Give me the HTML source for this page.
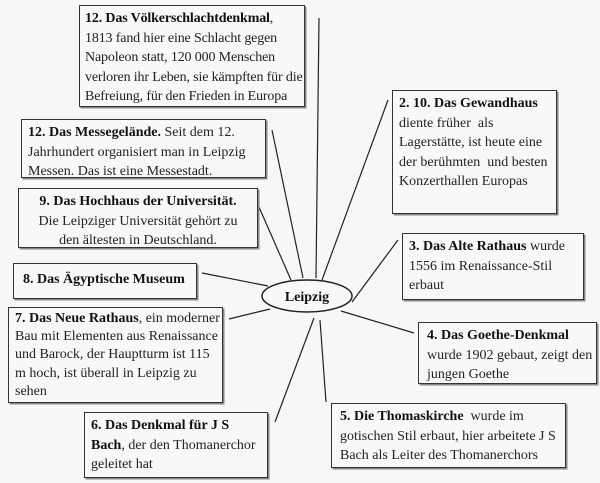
<!DOCTYPE html>
<html><head><meta charset="utf-8"><style>
html,body{margin:0;padding:0;}
body{width:600px;height:483px;background:#f7f7f5;position:relative;overflow:hidden;font-family:"Liberation Serif",serif;font-size:14px;color:#222;}
.b{position:absolute;border:1.5px solid #333;box-shadow:1.5px 1.5px 0 #888;background:#f8f8f6;line-height:19.5px;padding:3px 6px;box-sizing:border-box;white-space:nowrap;overflow:hidden;}
b{color:#111;}
svg{position:absolute;left:0;top:0;}
</style></head><body>
<svg width="600" height="483">
<g stroke="#222" stroke-width="1.2" fill="none">
<line x1="319" y1="18" x2="316" y2="278"/>
<line x1="272" y1="130" x2="303" y2="278"/>
<line x1="255" y1="198" x2="291" y2="280"/>
<line x1="388" y1="100" x2="322" y2="280"/>
<line x1="398" y1="240" x2="352" y2="302"/>
<line x1="202" y1="273" x2="268" y2="286"/>
<line x1="229" y1="319" x2="270" y2="309"/>
<line x1="275" y1="422" x2="314" y2="318"/>
<line x1="326" y1="402" x2="320" y2="320"/>
<line x1="414" y1="333" x2="341" y2="311"/>
<ellipse cx="307" cy="296" rx="45" ry="16" fill="#f8f8f6" stroke-width="1.5"/>
</g>
<text x="307" y="301" text-anchor="middle" font-family="Liberation Serif" font-weight="bold" font-size="14" fill="#111">Leipzig</text>
</svg>
<div class="b" style="left:79px;top:5px;width:226px;height:102px;padding-left:5px;letter-spacing:-0.15px;"><b>12. Das Völkerschlachtdenkmal</b>,<br>1813 fand hier eine Schlacht gegen<br>Napoleon statt, 120 000 Menschen<br>verloren ihr Leben, sie kämpften für die<br>Befreiung, für den Frieden in Europa</div>
<div class="b" style="left:21px;top:119px;width:245px;height:59px;"><b>12. Das Messegelände.</b> Seit dem 12.<br>Jahrhundert organisiert man in Leipzig<br>Messen. Das ist eine Messestadt.</div>
<div class="b" style="left:18px;top:188px;width:240px;height:60px;text-align:center;"><b>9. Das Hochhaus der Universität.</b><br>Die Leipziger Universität gehört zu<br>den ältesten in Deutschland.</div>
<div class="b" style="left:392px;top:90px;width:165px;height:124px;"><b>2. 10. Das Gewandhaus</b><br>diente früher&nbsp; als<br>Lagerstätte, ist heute eine<br>der berühmten&nbsp; und besten<br>Konzerthallen Europas</div>
<div class="b" style="left:402px;top:233px;width:182px;height:67px;"><b>3. Das Alte Rathaus</b> wurde<br>1556 im Renaissance-Stil<br>erbaut</div>
<div class="b" style="left:13px;top:263px;width:184px;height:36px;padding-left:9px;padding-top:6px;"><b>8. Das Ägyptische Museum</b></div>
<div class="b" style="left:8px;top:307px;width:215px;height:96px;line-height:18.2px;padding-top:2px;"><b>7. Das Neue Rathaus</b>, ein moderner<br>Bau mit Elementen aus Renaissance<br>und Barock, der Hauptturm ist 115<br>m hoch, ist überall in Leipzig zu<br>sehen</div>
<div class="b" style="left:418px;top:322px;width:179px;height:62px;padding-left:8px;"><b>4. Das Goethe-Denkmal</b><br>wurde 1902 gebaut, zeigt den<br>jungen Goethe</div>
<div class="b" style="left:84px;top:412px;width:184px;height:66px;"><b>6. Das Denkmal für J S</b><br><b>Bach</b>, der den Thomanerchor<br>geleitet hat</div>
<div class="b" style="left:331px;top:403px;width:235px;height:65px;padding-left:8px;"><b>5. Die Thomaskirche</b>&nbsp; wurde im<br>gotischen Stil erbaut, hier arbeitete J S<br>Bach als Leiter des Thomanerchors</div>
</body></html>
